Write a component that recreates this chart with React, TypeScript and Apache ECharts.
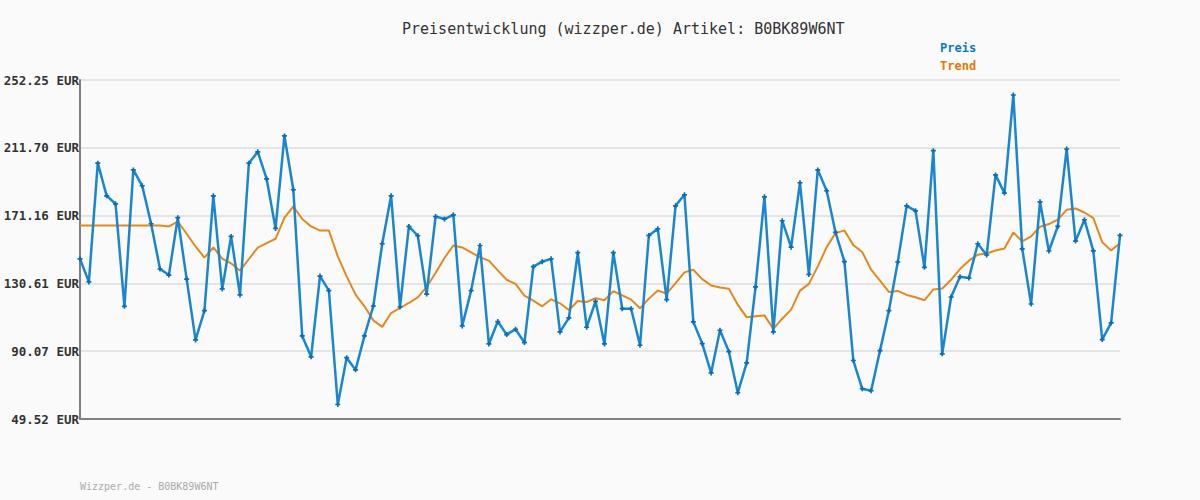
import React, { useEffect, useRef } from "react";
import * as echarts from "echarts";

const titleText = "Preisentwicklung (wizzper.de) Artikel: B0BK89W6NT";
const footerText = "Wizzper.de - B0BK89W6NT";
const yTicks = [49.52, 90.07, 130.61, 171.16, 211.7, 252.25];

const preis = [
  145.3, 131.5, 202.5, 183.0, 178.2, 116.9, 198.5, 189.0, 166.3, 139.2,
  135.6, 169.9, 133.2, 96.8, 114.3, 183.0, 127.3, 158.7, 123.7, 202.5,
  209.3, 193.1, 163.5, 218.8, 186.6, 99.2, 86.7, 135.0, 126.3, 58.2,
  86.2, 78.9, 99.2, 117.1, 154.3, 183.0, 116.5, 164.7, 159.1, 124.2,
  170.6, 169.1, 171.6, 105.2, 126.3, 153.3, 94.4, 107.8, 100.0, 103.2,
  95.2, 140.6, 143.6, 145.3, 101.6, 110.0, 149.0, 104.4, 119.9, 94.4,
  149.0, 115.5, 115.5, 93.6, 159.3, 163.3, 120.9, 177.0, 183.6, 107.6,
  94.6, 77.1, 102.6, 89.8, 65.2, 83.1, 128.5, 182.4, 101.6, 168.1,
  152.3, 190.8, 136.0, 198.5, 186.0, 161.1, 143.6, 84.5, 67.6, 66.4,
  90.4, 114.3, 143.4, 177.0, 174.0, 140.2, 210.0, 88.5, 122.5, 134.6,
  133.8, 154.3, 147.6, 195.5, 184.6, 243.3, 151.3, 118.3, 179.4, 150.0,
  164.7, 211.0, 155.9, 168.7, 150.1, 97.0, 107.0, 159.3,
];

const trend = [
  165.3, 165.3, 165.3, 165.3, 165.3, 165.3, 165.3, 165.3, 165.3, 165.3,
  164.7, 167.6, 160.3, 152.7, 146.0, 152.1, 145.5, 142.6, 138.2, 145.2,
  152.0, 154.7, 157.3, 170.0, 176.6, 169.1, 164.7, 162.2, 162.2, 146.8,
  134.8, 123.9, 116.9, 108.5, 104.6, 112.9, 115.9, 118.9, 122.3, 128.5,
  136.8, 145.8, 153.3, 152.1, 149.2, 146.2, 144.2, 138.4, 132.8, 130.3,
  123.3, 120.3, 116.9, 121.1, 118.7, 114.7, 120.1, 119.5, 121.8, 120.5,
  126.0, 123.5, 120.9, 115.7, 121.5, 126.4, 124.5, 130.8, 137.2, 138.8,
  133.2, 129.4, 128.2, 127.4, 117.9, 110.3, 110.9, 111.5, 103.4, 109.5,
  114.9, 126.3, 130.3, 140.8, 152.3, 160.7, 162.3, 153.5, 149.4, 138.8,
  132.2, 125.5, 126.1, 123.7, 122.3, 120.5, 127.0, 127.6, 132.8, 139.2,
  144.2, 147.8, 148.5, 150.3, 151.5, 161.1, 155.7, 158.7, 164.5, 166.1,
  168.7, 174.6, 175.4, 173.0, 169.7, 155.3, 150.3, 154.7,
];

const categories = preis.map((_, i) => String(i + 1));

const FONT = "'DejaVu Sans Mono', 'Liberation Mono', monospace";
const BLUE = "#1a86cf";
const BLUE_DARK = "#0a6db5";
const ORANGE = "#e3891f";

export default function App() {
  const ref = useRef<HTMLDivElement>(null);

  useEffect(() => {
    if (!ref.current) return;
    const chart = echarts.init(ref.current, undefined, { renderer: "svg" });
    const yMin = yTicks[0];
    const yMax = yTicks[yTicks.length - 1];
    const step = (yMax - yMin) / (yTicks.length - 1);
    const shift = (v: number) => +(v - yMin).toFixed(4);

    chart.setOption({
      animation: false,
      backgroundColor: "#fafafa",
      title: {
        text: titleText,
        left: 397,
        top: 16,
        textStyle: {
          fontFamily: FONT,
          fontSize: 15,
          fontWeight: "normal",
          color: "#333",
        },
      },
      legend: {
        orient: "vertical",
        left: 930,
        top: 36,
        icon: "none",
        itemWidth: 0,
        itemHeight: 14,
        itemGap: 5,
        selectedMode: false,
        data: [
          { name: "Preis", textStyle: { color: "#0a78c8" } },
          { name: "Trend", textStyle: { color: "#e07b00" } },
        ],
        textStyle: { fontFamily: FONT, fontSize: 12, fontWeight: "bold" },
      },
      graphic: [
        {
          type: "text",
          left: 80,
          top: 481,
          style: {
            text: footerText,
            font: `10px ${FONT}`,
            fill: "#aaaaaa",
          },
        },
      ],
      grid: { left: 80, right: 80, top: 80, bottom: 81, containLabel: false },
      xAxis: {
        type: "category",
        data: categories,
        boundaryGap: false,
        axisLine: { lineStyle: { color: "#808080", width: 2 } },
        axisTick: { show: false },
        axisLabel: { show: false },
        splitLine: { show: false },
      },
      yAxis: {
        type: "value",
        min: 0,
        max: yMax - yMin,
        interval: step,
        axisLine: { show: true, lineStyle: { color: "#808080", width: 2 } },
        axisTick: { show: false },
        axisLabel: {
          margin: 1,
          fontFamily: FONT,
          fontSize: 12.5,
          fontWeight: "bold",
          color: "#333",
          formatter: (v: number) => {
            const idx = Math.round(v / step);
            const t = yTicks[Math.max(0, Math.min(yTicks.length - 1, idx))];
            return t.toFixed(2) + " EUR";
          },
        },
        splitLine: { show: true, lineStyle: { color: "#e4e4e4", width: 2 } },
      },
      series: [
        {
          name: "Preis",
          type: "line",
          data: preis.map(shift),
          symbol: "path://M2,0H4V2H6V4H4V6H2V4H0V2H2Z",
          symbolSize: 5,
          showSymbol: true,
          showAllSymbol: true,
          itemStyle: { color: BLUE_DARK },
          lineStyle: { color: BLUE, width: 2.5 },
          z: 3,
        },
        {
          name: "Trend",
          type: "line",
          data: trend.map(shift),
          symbol: "none",
          itemStyle: { color: ORANGE },
          lineStyle: { color: ORANGE, width: 2 },
          z: 2,
        },
      ],
    });
    return () => chart.dispose();
  }, []);

  return (
    <div
      ref={ref}
      style={{ position: "fixed", left: 0, top: 0, width: 1200, height: 500 }}
    />
  );
}
